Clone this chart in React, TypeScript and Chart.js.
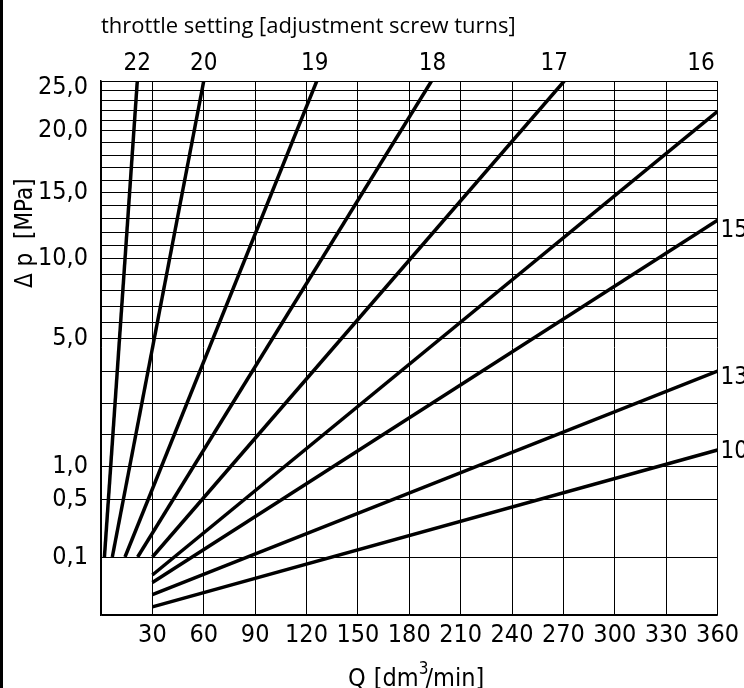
import React, { useEffect, useRef } from 'react';
import { Chart, registerables, LinearScale } from 'chart.js';

Chart.register(...registerables);

// ---- data ----
const THROTTLE_LABELS = ['22', '20', '19', '18', '17', '16', '15', '13', '10'];
const START_FLOW = [2, 6.6, 14, 21.4, 30, 30, 30, 30, 30];
const START_DP = [0.1, 0.1, 0.1, 0.1, 0.1, 0.069, 0.056, 0.035, 0.014];
const END_FLOW = [21.2, 60, 126, 193, 270.5, 360, 360, 360, 360];
const END_DP = [25, 25, 25, 25, 25, 21.9, 12.9, 4.0, 1.53];

// ---- axes ----
const X_MIN = 0;
const X_MAX = 360;
const X_STEP = 30;
const Y_GRID_VALUES = [0, 0.1, 0.5, 1, 2, 3, 4, 5, 6, 7, 8, 9, 10, 11, 12, 13, 14, 15, 16, 17, 18, 19, 20, 21, 22, 23, 24, 25];
const Y_LABELED_VALUES = [0.1, 0.5, 1, 5, 10, 15, 20, 25];
const Y_LABEL_TEXTS = ['0,1', '0,5', '1,0', '5,0', '10,0', '15,0', '20,0', '25,0'];
// the chart's non-uniform pressure scale: value -> fraction of axis height
const Y_BREAK_VALUES = [0, 0.1, 0.5, 1, 2, 3, 4, 5, 10, 15, 20, 25];
const Y_BREAK_FRACTIONS = [0, 0.1086, 0.2172, 0.2772, 0.3371, 0.397, 0.4569, 0.5169, 0.6685, 0.7903, 0.9082, 1];

function toFraction(v: number): number {
  if (v == null || isNaN(v)) return NaN;
  const n = Y_BREAK_VALUES.length;
  if (v <= Y_BREAK_VALUES[0]) return Y_BREAK_FRACTIONS[0];
  for (let i = 0; i < n - 1; i++) {
    const a = Y_BREAK_VALUES[i];
    const b = Y_BREAK_VALUES[i + 1];
    if (v <= b) {
      const t = (v - a) / (b - a);
      return Y_BREAK_FRACTIONS[i] + t * (Y_BREAK_FRACTIONS[i + 1] - Y_BREAK_FRACTIONS[i]);
    }
  }
  return Y_BREAK_FRACTIONS[n - 1];
}

function fromFraction(f: number): number {
  const n = Y_BREAK_FRACTIONS.length;
  if (f <= Y_BREAK_FRACTIONS[0]) return Y_BREAK_VALUES[0];
  for (let i = 0; i < n - 1; i++) {
    const a = Y_BREAK_FRACTIONS[i];
    const b = Y_BREAK_FRACTIONS[i + 1];
    if (f <= b) {
      const t = (f - a) / (b - a);
      return Y_BREAK_VALUES[i] + t * (Y_BREAK_VALUES[i + 1] - Y_BREAK_VALUES[i]);
    }
  }
  return Y_BREAK_VALUES[n - 1];
}

class PiecewiseScale extends LinearScale {
  static id = 'piecewise';
  static defaults = LinearScale.defaults;
  buildTicks() {
    (this as any).start = (this as any).min;
    (this as any).end = (this as any).max;
    return Y_GRID_VALUES.map((value) => ({ value }));
  }
  getPixelForValue(value: number) {
    return (this as any).getPixelForDecimal(toFraction(value));
  }
  getValueForPixel(pixel: number) {
    return fromFraction((this as any).getDecimalForPixel(pixel));
  }
}
Chart.register(PiecewiseScale as any);

// ---- styling ----
const NUM_FONT = '"DejaVu Sans Condensed", "Liberation Sans Narrow", "Roboto Condensed", "DejaVu Sans", sans-serif';
const TEXT_FONT = '"Open Sans", "Noto Sans", sans-serif';
const INK = '#000';
const TOP_TICK_VALUE = 25; // its label sits just below the top edge, drawn by the plugin

// where each curve label sits relative to its curve end (layout only)
const LABEL_PLACEMENT = [
  { side: 'top', dx: 0 },
  { side: 'top', dx: 0 },
  { side: 'top', dx: -2 },
  { side: 'top', dx: 1 },
  { side: 'top', dx: -10 },
  { side: 'topAt', px: 701 },
  { side: 'right', dy: 10 },
  { side: 'right', dy: 7 },
  { side: 'right', dy: 2 },
];

const annotationPlugin = {
  id: 'annotations',
  afterDraw(chart: any) {
    const { ctx, chartArea, scales } = chart;
    const xs = scales.x;
    const ys = scales.y;
    ctx.save();
    ctx.fillStyle = INK;

    // top caption
    ctx.font = `400 22px ${TEXT_FONT}`;
    ctx.textAlign = 'left';
    ctx.textBaseline = 'alphabetic';
    ctx.fillText('throttle setting [adjustment screw turns]', chartArea.left, 33);

    // top y label
    ctx.font = `400 25px ${NUM_FONT}`;
    ctx.textAlign = 'right';
    ctx.textBaseline = 'middle';
    const topIdx = Y_LABELED_VALUES.indexOf(TOP_TICK_VALUE);
    ctx.fillText(Y_LABEL_TEXTS[topIdx], chartArea.left - 13, ys.getPixelForValue(TOP_TICK_VALUE) + 6);

    // curve labels
    ctx.font = `400 24px ${NUM_FONT}`;
    THROTTLE_LABELS.forEach((lab, i) => {
      const p = LABEL_PLACEMENT[i] as any;
      const ex = xs.getPixelForValue(END_FLOW[i]);
      const ey = ys.getPixelForValue(END_DP[i]);
      if (p.side === 'top') {
        ctx.textAlign = 'center';
        ctx.textBaseline = 'middle';
        ctx.fillText(lab, ex + p.dx, chartArea.top - 17);
      } else if (p.side === 'topAt') {
        ctx.textAlign = 'center';
        ctx.textBaseline = 'middle';
        ctx.fillText(lab, p.px, chartArea.top - 17);
      } else {
        ctx.textAlign = 'left';
        ctx.textBaseline = 'middle';
        ctx.fillText(lab, chartArea.right + 3, ey + p.dy);
      }
    });

    // x axis title  Q  [dm³/min]
    ctx.textAlign = 'left';
    ctx.textBaseline = 'alphabetic';
    ctx.font = `400 25px ${NUM_FONT}`;
    const baseY = 686;
    let x = 348;
    ctx.fillText('Q', x, baseY);
    x += ctx.measureText('Q').width + 8;
    const part1 = '[dm';
    ctx.fillText(part1, x, baseY);
    x += ctx.measureText(part1).width;
    ctx.font = `400 17px ${NUM_FONT}`;
    ctx.fillText('3', x, baseY - 12);
    x += ctx.measureText('3').width - 3;
    ctx.font = `400 25px ${NUM_FONT}`;
    ctx.fillText('/min]', x, baseY);

    // y axis title (rotated)
    ctx.save();
    ctx.translate(32, 288);
    ctx.rotate(-Math.PI / 2);
    ctx.font = `400 24px ${NUM_FONT}`;
    ctx.textAlign = 'left';
    ctx.textBaseline = 'alphabetic';
    ctx.fillText('\u0394 p  [MPa]', 0, 0);
    ctx.restore();

    ctx.restore();
  },
};

export default function App() {
  const canvasRef = useRef<HTMLCanvasElement | null>(null);

  useEffect(() => {
    const canvas = canvasRef.current;
    if (!canvas) return;
    const datasets = THROTTLE_LABELS.map((lab, i) => ({
      label: lab,
      data: [
        { x: START_FLOW[i], y: START_DP[i] },
        { x: END_FLOW[i], y: END_DP[i] },
      ],
      borderColor: INK,
      backgroundColor: INK,
      borderWidth: 3.5,
      pointRadius: 0,
      tension: 0,
      fill: false,
    }));

    const chart = new Chart(canvas, {
      type: 'line',
      data: { datasets },
      options: {
        animation: false,
        responsive: false,
        devicePixelRatio: 1,
        layout: { padding: { left: 0, top: 81, right: 26, bottom: 0 } },
        plugins: {
          legend: { display: false },
          title: { display: false },
          tooltip: { enabled: false },
        },
        scales: {
          x: {
            type: 'linear',
            min: X_MIN,
            max: X_MAX,
            afterFit: (s: any) => {
              s.height = 73;
            },
            ticks: {
              stepSize: X_STEP,
              autoSkip: false,
              maxRotation: 0,
              padding: 5,
              color: INK,
              font: { family: NUM_FONT, size: 25 },
              callback: (v: any) => (Number(v) === 0 ? '' : String(v)),
            },
            grid: { color: INK, lineWidth: 1, drawTicks: false },
            border: { color: INK, width: 1.5 },
          },
          y: {
            type: 'piecewise' as any,
            min: 0,
            max: 25,
            afterFit: (s: any) => {
              s.width = 101;
            },
            ticks: {
              autoSkip: false,
              padding: 13,
              color: INK,
              font: { family: NUM_FONT, size: 25 },
              callback: (v: any) => {
                const n = Number(v);
                if (n === TOP_TICK_VALUE) return '';
                const idx = Y_LABELED_VALUES.indexOf(n);
                return idx >= 0 ? Y_LABEL_TEXTS[idx] : '';
              },
            },
            grid: { color: INK, lineWidth: 1, drawTicks: false },
            border: { color: INK, width: 1.5 },
          },
        },
      } as any,
      plugins: [annotationPlugin],
    });
    return () => chart.destroy();
  }, []);

  return (
    <div style={{ position: 'fixed', left: 0, top: 0, width: 744, height: 688, background: '#fff', overflow: 'hidden' }}>
      <canvas ref={canvasRef} width={744} height={688} style={{ display: 'block', width: 744, height: 688 }} />
      <div style={{ position: 'absolute', left: 0, top: 0, width: 3, height: 688, background: '#000' }} />
    </div>
  );
}
